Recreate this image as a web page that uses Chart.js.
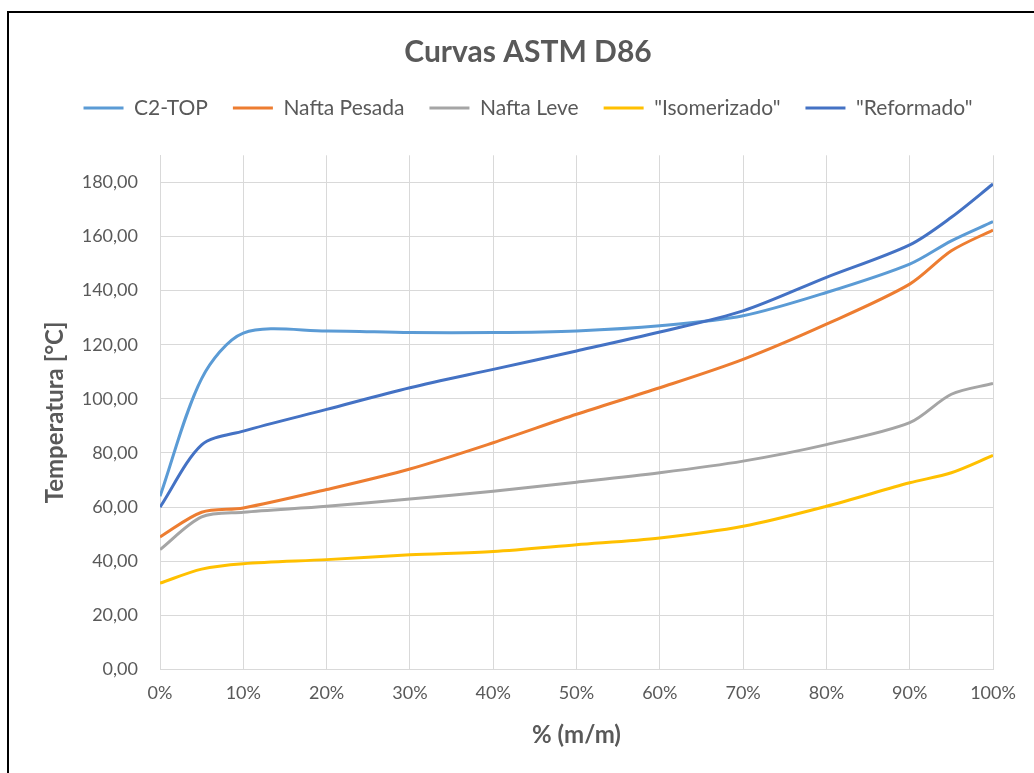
<!DOCTYPE html>
<html>
<head>
<meta charset="utf-8">
<title>Curvas ASTM D86</title>
<script src="https://cdn.jsdelivr.net/npm/chart.js@4.4.1/dist/chart.umd.min.js"></script>
<style>
  html, body { margin: 0; padding: 0; background: #ffffff; }
  body { width: 1034px; height: 773px; position: relative; overflow: hidden; }
  .frame { position: absolute; left: 7px; top: 11px; width: 1100px; height: 900px;
           border: 2px solid #000; box-sizing: border-box; }
  .wrap { position: absolute; left: 0; top: 0; width: 1034px; height: 773px; }
</style>
</head>
<body>
<div class="frame"></div>
<div class="wrap"><canvas id="chart" width="1034" height="773"></canvas></div>
<script>
// % recovered (m/m) at each reading of the distillation
const distilledPct = [0, 5, 10, 20, 30, 40, 50, 60, 70, 80, 90, 95, 100];

// Temperatures (°C) per stream
const c2Top       = [64.0, 107.5, 124.3, 125.1, 124.5, 124.5, 125.1, 127.0, 130.7, 139.3, 149.8, 158.4, 165.5];
const naftaPesada = [49.0, 58.1, 59.7, 66.5, 74.1, 83.8, 94.3, 104.1, 114.6, 127.6, 142.4, 154.7, 162.4];
const naftaLeve   = [44.3, 56.4, 58.1, 60.3, 63.0, 65.9, 69.2, 72.7, 77.0, 83.1, 91.2, 101.7, 105.7];
const isomerizado = [31.9, 37.1, 39.1, 40.6, 42.4, 43.6, 46.1, 48.6, 52.9, 60.3, 69.0, 72.7, 79.1];
const reformado   = [60.0, 83.0, 88.1, 96.1, 104.1, 110.9, 117.7, 124.7, 132.5, 144.9, 156.9, 167.1, 179.4];

// Axis tick values
const xTickValues = [0, 10, 20, 30, 40, 50, 60, 70, 80, 90, 100];
const yTickValues = [0, 20, 40, 60, 80, 100, 120, 140, 160, 180];

const FONT = "Lato, 'Open Sans', 'DejaVu Sans', sans-serif";
const TEXT = '#595959';
const GRID = '#D9D9D9';

Chart.defaults.font.family = FONT;
Chart.defaults.color = TEXT;

const toPoints = (vals) => distilledPct.map((x, i) => ({ x, y: vals[i] }));

const series = [
  { label: 'C2-TOP',         data: c2Top,       color: '#5B9BD5' },
  { label: 'Nafta Pesada',   data: naftaPesada, color: '#ED7D31' },
  { label: 'Nafta Leve',     data: naftaLeve,   color: '#A5A5A5' },
  { label: '"Isomerizado"',  data: isomerizado, color: '#FFC000' },
  { label: '"Reformado"',    data: reformado,   color: '#4472C4' }
];

// extra room between the legend row and the plot area
const legendSpacing = {
  id: 'legendSpacing',
  beforeInit(chart) {
    const baseFit = chart.legend.fit;
    chart.legend.fit = function () {
      baseFit.call(this);
      this.height += 26.8;
    };
  }
};

new Chart(document.getElementById('chart'), {
  type: 'line',
  data: {
    datasets: series.map((s, i) => ({
      label: s.label,
      data: toPoints(s.data),
      borderColor: s.color,
      backgroundColor: s.color,
      borderWidth: 3,
      pointRadius: 0,
      tension: 0.3,
      fill: false,
      order: series.length - i
    }))
  },
  options: {
    responsive: false,
    animation: false,
    devicePixelRatio: 1,
    layout: { padding: { left: 22, right: 0, top: 0, bottom: 0 } },
    plugins: {
      title: {
        display: true,
        text: 'Curvas ASTM D86',
        color: TEXT,
        font: { family: FONT, size: 30, weight: 'bold' },
        padding: { top: 34, bottom: 2.5 }
      },
      legend: {
        position: 'top',
        labels: {
          color: TEXT,
          font: { family: FONT, size: 21 },
          usePointStyle: true,
          pointStyle: 'line',
          pointStyleWidth: 40,
          padding: 25,
          sort: (a, b) => a.datasetIndex - b.datasetIndex
        }
      },
      tooltip: { enabled: false }
    },
    scales: {
      x: {
        type: 'linear',
        min: 0,
        max: 100,
        afterBuildTicks: (scale) => { scale.ticks = xTickValues.map(v => ({ value: v })); },
        afterFit: (scale) => { scale.height = 103.5; scale.paddingRight = 41; },
        ticks: {
          callback: (v) => v + '%',
          color: TEXT,
          font: { family: FONT, size: 18 },
          padding: 13,
          maxRotation: 0
        },
        grid: { color: GRID, drawTicks: false },
        border: { color: GRID },
        title: {
          display: true,
          text: '% (m/m)',
          color: TEXT,
          font: { family: FONT, size: 24, weight: 'bold' },
          padding: { top: 0, bottom: 23.6 }
        }
      },
      y: {
        type: 'linear',
        min: 0,
        max: 190,
        afterBuildTicks: (scale) => { scale.ticks = yTickValues.map(v => ({ value: v })); },
        afterFit: (scale) => { scale.width = 138; },
        ticks: {
          callback: (v) => v.toFixed(2).replace('.', ','),
          color: TEXT,
          font: { family: FONT, size: 18 },
          padding: 22
        },
        grid: { color: GRID, drawTicks: false },
        border: { color: GRID },
        title: {
          display: true,
          text: 'Temperatura [°C]',
          color: TEXT,
          font: { family: FONT, size: 24, weight: 'bold' },
          padding: { top: 18.6, bottom: 0 }
        }
      }
    }
  },
  plugins: [legendSpacing]
});
</script>
</body>
</html>
